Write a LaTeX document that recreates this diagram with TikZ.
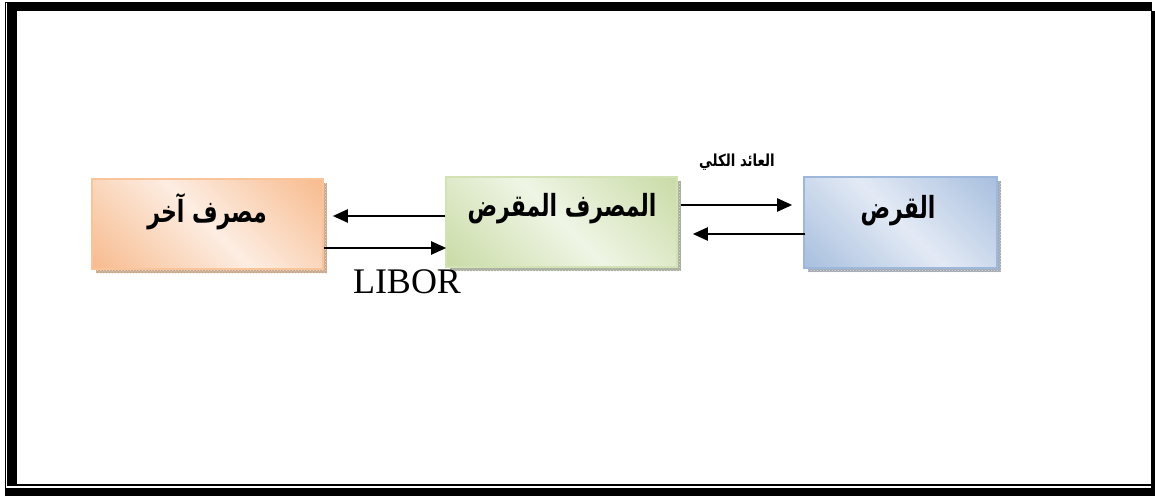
\documentclass[tikz,border=0pt]{standalone}
\usepackage{fontspec}
\setmainfont{Liberation Serif}
\newfontfamily\arabicfont[Script=Arabic]{DejaVu Sans}
\TeXXeTstate=1
\usetikzlibrary{arrows.meta,patterns}

\definecolor{orgOuter}{HTML}{F6AF7A}
\definecolor{orgInner}{HTML}{FDEDE2}
\definecolor{orgLine}{HTML}{F9C49A}
\definecolor{orgShadow}{HTML}{C9A98E}
\definecolor{grnOuter}{HTML}{C0D597}
\definecolor{grnInner}{HTML}{EFF5E5}
\definecolor{grnLine}{HTML}{D2E2B4}
\definecolor{grnShadow}{HTML}{A8AE9E}
\definecolor{bluOuter}{HTML}{90AED5}
\definecolor{bluInner}{HTML}{E3EAF5}
\definecolor{bluLine}{HTML}{9DB8DA}
\definecolor{bluShadow}{HTML}{A4AAB4}

% soft two-sided fills: saturated at both ends, pale in the middle
\pgfdeclareverticalshading{orgfill}{100bp}{color(0bp)=(orgOuter); color(22bp)=(orgOuter);
  color(50bp)=(orgInner); color(78bp)=(orgOuter); color(100bp)=(orgOuter)}
\pgfdeclareverticalshading{grnfill}{100bp}{color(0bp)=(grnOuter); color(22bp)=(grnOuter);
  color(50bp)=(grnInner); color(78bp)=(grnOuter); color(100bp)=(grnOuter)}
\pgfdeclareverticalshading{blufill}{100bp}{color(0bp)=(bluOuter); color(22bp)=(bluOuter);
  color(50bp)=(bluInner); color(78bp)=(bluOuter); color(100bp)=(bluOuter)}

\tikzset{
  box/.style={minimum width=231pt, minimum height=90pt, line width=1.6pt, inner sep=0pt},
  grad/.style={path picture={
      \shade[shading=#1, shading angle=-45]
        (path picture bounding box.center) +(-125,-125) rectangle +(125,125);}},
  arr/.style={line width=2.2pt, -{Triangle[length=15pt,width=13pt]}},
  title/.style={font=\arabicfont\bfseries\fontsize{25}{30}\selectfont,
                xscale=0.88, yscale=1.22, transform shape},
  flowlabel/.style={font=\arabicfont\bfseries\fontsize{14}{17}\selectfont,
                xscale=0.95, yscale=1.18, transform shape},
  shadowbox/.style={fill=#1},
  shadowdots/.style={pattern=crosshatch dots, pattern color=white!60!#1},
}

\begin{document}
\begin{tikzpicture}[x=1pt,y=-1pt]
  \useasboundingbox (0,0) rectangle (1155,497);
  \fill[white] (0,0) rectangle (1155,497);

  % page frame: thin-thick double rule
  \begin{scope}
    \clip (0,0) rectangle (1155,497);
    \draw[line width=1.2pt] (5.5,496) -- (5.5,2.5) -- (1152,2.5);
    \fill (7,3.5) rectangle (17,486);
    \fill (7,3.5) rectangle (1152,11);
    \fill (7,484) rectangle (1152,486);
    \fill (1150.5,11) rectangle (1155,496);
    \fill (5,488) rectangle (1155,496);
  \end{scope}

  % box shadows
  \fill[shadowbox=orgShadow] (96,183) rectangle (327,273);
  \fill[shadowbox=grnShadow] (450,181) rectangle (681,271);
  \fill[shadowbox=bluShadow] (808,181) rectangle (1001,272);
  \fill[shadowdots=orgShadow] (96,183) rectangle (327,273);
  \fill[shadowdots=grnShadow] (450,181) rectangle (681,271);
  \fill[shadowdots=bluShadow] (808,181) rectangle (1001,272);

  % boxes
  \node[box, draw=orgLine, grad=orgfill] (other) at (207.5,224) {};
  \node[box, draw=grnLine, grad=grnfill] (lender) at (561.5,222) {};
  \node[box, draw=bluLine, minimum width=193pt, minimum height=91pt,
        grad=blufill] (loan) at (900.5,222.5) {};

  % box titles
  \node[title] (t1) at (207,212) {\beginR مصرف آخر\endR};
  \node[title] (t2) at (562,209) {\beginR المصرف المقرض\endR};
  \node[title] (t3) at (898,211) {\beginR القرض\endR};

  % flow labels
  \node[flowlabel] (ret) at (737,162) {\beginR العائد الكلي\endR};
  \node[anchor=base, inner sep=0pt, font=\fontsize{36}{40}\selectfont] (libor) at (407,293) {LIBOR};

  % arrows
  \draw[arr, shorten >=9pt] ([yshift=6pt]lender.west) -- ([yshift=8pt]other.east);
  \draw[arr, shorten >=-1pt] ([yshift=-24pt]other.east) -- ([yshift=-26pt]lender.west);
  \draw[arr, shorten >=11pt] ([xshift=3pt,yshift=17pt]lender.east) -- ([yshift=17.5pt]loan.west);
  \draw[arr, shorten >=15pt] ([xshift=2pt,yshift=-11.5pt]loan.west) -- ([yshift=-12pt]lender.east);
\end{tikzpicture}
\end{document}
